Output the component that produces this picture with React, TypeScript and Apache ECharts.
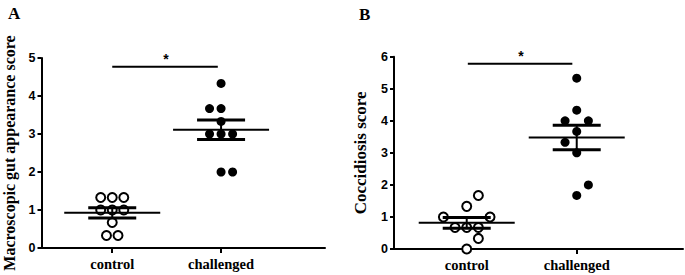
import React, { useEffect, useRef } from "react";
import * as echarts from "echarts";

const categories = ["control", "challenged"];
const panelTitles = ["A", "B"];
const yNames = ["Macroscopic gut appearance score", "Coccidiosis score"];
const yMax = [5, 6];

// Panel A values and jitter columns
const controlA = [1.33, 1.33, 1.33, 1, 1, 1, 0.67, 0.33, 0.33];
const controlAcol = [-1, 0, 1, -1, 0, 1, 0, -0.5, 0.5];
const challengedA = [4.33, 3.67, 3.67, 3.33, 3, 3, 3, 2, 2];
const challengedAcol = [0, -1, 0, 0, -1, 0, 1, 0, 1];
const sigA = [1, 1.97, 4.77];

// Panel B values and jitter columns
const controlB = [1.67, 1.33, 1, 1, 0.67, 0.67, 0.67, 0.33, 0];
const controlBcol = [1, 0, -2, 2, -1, 0, 1, 1, 0];
const challengedB = [5.33, 4.33, 4, 4, 3.67, 3.33, 3, 2, 1.67];
const challengedBcol = [0, 0, -1, 1, 0, -1, 0, 1, 0];
const sigB = [1.01, 1.96, 5.78];

const jitterStep = 0.106;

const SERIF = "Liberation Serif";
const SANS = "Liberation Sans";

function meanSem(v: number[]) {
  const n = v.length;
  const m = v.reduce((a, b) => a + b, 0) / n;
  const sd = Math.sqrt(v.reduce((a, b) => a + (b - m) * (b - m), 0) / (n - 1));
  return [m, sd / Math.sqrt(n)];
}

function pts(vals: number[], cols: number[], pos: number) {
  return vals.map((v, i) => [pos + cols[i] * jitterStep, v]);
}

export default function App() {
  const ref = useRef<HTMLDivElement>(null);
  useEffect(() => {
    const chart = echarts.init(ref.current!, undefined, { renderer: "svg" });
    const grids = [
      { left: 38.5, top: 58, width: 286.5, height: 190 },
      { left: 394, top: 56.7, width: 289, height: 192.3 },
    ];
    const xMins = [0.35, 0.339];
    const xMaxs = [2.955, 2.966];
    const data = [
      { c: controlA, cc: controlAcol, h: challengedA, hc: challengedAcol, sig: sigA },
      { c: controlB, cc: controlBcol, h: challengedB, hc: challengedBcol, sig: sigB },
    ];
    const nameGaps = [24.5, 25.5];
    const nameSizes = [16, 17];

    const xAxis = grids.map((_, i) => ({
      type: "value",
      gridIndex: i,
      min: xMins[i],
      max: xMaxs[i],
      splitLine: { show: false },
      axisLine: { show: true, lineStyle: { color: "#000", width: 2 } },
      axisTick: { show: true, customValues: [1, 2], length: 5, lineStyle: { color: "#000", width: 2 } },
      axisLabel: {
        show: true,
        customValues: [1, 2],
        formatter: (v: number) => categories[Math.round(v) - 1] ?? "",
        color: "#000",
        fontFamily: SERIF,
        fontWeight: "bold",
        fontSize: 14.5,
        margin: 8,
      },
    }));
    const yAxis = grids.map((_, i) => ({
      type: "value",
      gridIndex: i,
      min: 0,
      max: yMax[i],
      interval: 1,
      splitLine: { show: false },
      axisLine: { show: true, lineStyle: { color: "#000", width: 2 } },
      axisTick: { show: true, length: 4, lineStyle: { color: "#000", width: 2 } },
      axisLabel: { color: "#000", fontFamily: SANS, fontWeight: "bold", fontSize: 12.5, margin: 6 },
      name: yNames[i],
      nameLocation: "middle",
      nameRotate: 90,
      nameGap: nameGaps[i],
      nameTextStyle: { color: "#000", fontFamily: SERIF, fontWeight: "bold", fontSize: nameSizes[i] },
    }));

    const series: any[] = [];
    data.forEach((d, i) => {
      series.push({
        type: "scatter",
        xAxisIndex: i,
        yAxisIndex: i,
        data: pts(d.c, d.cc, 1),
        symbol: "circle",
        symbolSize: 9,
        itemStyle: { color: "#fff", borderColor: "#000", borderWidth: 2, opacity: 1 },
        z: 2,
      });
      series.push({
        type: "scatter",
        xAxisIndex: i,
        yAxisIndex: i,
        data: pts(d.h, d.hc, 2),
        symbol: "circle",
        symbolSize: 9,
        itemStyle: { color: "#000", opacity: 1 },
        z: 2,
      });
      const ms = [[1, ...meanSem(d.c)], [2, ...meanSem(d.h)]];
      series.push({
        type: "custom",
        xAxisIndex: i,
        yAxisIndex: i,
        data: ms,
        encode: { x: 0, y: 1 },
        z: 3,
        renderItem: (params: any, api: any) => {
          const x = api.value(0), m = api.value(1), s = api.value(2);
          const c = api.coord([x, m]);
          const t = api.coord([x, m + s]);
          const b = api.coord([x, m - s]);
          const st = (w: number) => ({ stroke: "#000", lineWidth: w });
          return {
            type: "group",
            children: [
              { type: "line", shape: { x1: c[0] - 48, y1: c[1], x2: c[0] + 48, y2: c[1] }, style: st(2) },
              { type: "line", shape: { x1: c[0], y1: t[1], x2: c[0], y2: b[1] }, style: st(2) },
              { type: "line", shape: { x1: c[0] - 24, y1: t[1], x2: c[0] + 24, y2: t[1] }, style: st(3) },
              { type: "line", shape: { x1: c[0] - 24, y1: b[1], x2: c[0] + 24, y2: b[1] }, style: st(3) },
            ],
          };
        },
      });
      series.push({
        type: "custom",
        xAxisIndex: i,
        yAxisIndex: i,
        data: [d.sig],
        encode: { x: [0, 1], y: 2 },
        z: 3,
        renderItem: (params: any, api: any) => {
          const p1 = api.coord([api.value(0), api.value(2)]);
          const p2 = api.coord([api.value(1), api.value(2)]);
          return {
            type: "group",
            children: [
              { type: "line", shape: { x1: p1[0], y1: p1[1], x2: p2[0], y2: p2[1] }, style: { stroke: "#000", lineWidth: 2 } },
              {
                type: "text",
                style: {
                  text: "*",
                  x: (p1[0] + p2[0]) / 2 + 1,
                  y: p1[1] - 8,
                  align: "center",
                  verticalAlign: "middle",
                  fontFamily: SANS,
                  fontWeight: "bold",
                  fontSize: 14,
                  fill: "#000",
                },
              },
            ],
          };
        },
      });
    });

    chart.setOption({
      animation: false,
      backgroundColor: "#fff",
      title: [
        { text: panelTitles[0], left: 3, top: 0, textStyle: { fontFamily: SERIF, fontWeight: "bold", fontSize: 17, color: "#000" } },
        { text: panelTitles[1], left: 354, top: 1, textStyle: { fontFamily: SERIF, fontWeight: "bold", fontSize: 17, color: "#000" } },
      ],
      grid: grids,
      xAxis,
      yAxis,
      series,
    });
    return () => chart.dispose();
  }, []);
  return (
    <div
      ref={ref}
      style={{ position: "fixed", left: 0, top: 0, width: 685, height: 275, background: "#fff" }}
    />
  );
}
